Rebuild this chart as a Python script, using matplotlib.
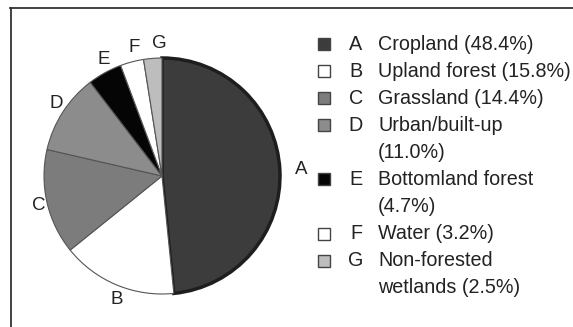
import matplotlib
matplotlib.use("Agg")
import matplotlib.pyplot as plt
from matplotlib.lines import Line2D
from matplotlib.patches import Rectangle

# Land cover shares (percent)
letters = ["A", "B", "C", "D", "E", "F", "G"]
names = ["Cropland", "Upland forest", "Grassland", "Urban/built-up\n",
         "Bottomland forest\n", "Water", "Non-forested\nwetlands"]
shares = [48.4, 15.8, 14.4, 11.0, 4.7, 3.2, 2.5]
colors = ["#3c3c3c", "#ffffff", "#7c7c7c", "#8c8c8c", "#050505", "#ffffff", "#bdbdbd"]

plt.rcParams["font.family"] = ["Liberation Sans", "DejaVu Sans"]

W, H = 573, 327
fs = 14.2
fig = plt.figure(figsize=(W / 100, H / 100), dpi=100)
ax = fig.add_axes([0, 0, 1, 1])
ax.set_xlim(0, W)
ax.set_ylim(H, 0)
ax.axis("off")

# pie drawn in its own axes so the angles stay normal
pax = fig.add_axes([0, 0, 1, 1])
wedges, texts = pax.pie(shares, labels=letters, colors=colors, startangle=90,
                        counterclock=False, center=(162, H - 176), radius=118,
                        labeldistance=1.13, frame=True,
                        wedgeprops=dict(edgecolor="#555555", linewidth=0.8),
                        textprops=dict(fontsize=13.5, color="#222222"))
pax.set_xlim(0, W)
pax.set_ylim(0, H)
pax.axis("off")
wedges[0].set_edgecolor("#1e1e1e")
wedges[0].set_linewidth(2.5)

# frame: top and left rules only
ax.add_line(Line2D([10, W], [8, 8], color="#333333", lw=1.3))
ax.add_line(Line2D([11, 11], [8, H], color="#333333", lw=1.3))

# legend
y = 44
step = 27.1
for letter, name, pct, col in zip(letters, names, shares, colors):
    sep = "" if name.endswith("\n") else " "
    lines = (name + sep + f"({pct:.1f}%)").split("\n")
    ax.add_patch(Rectangle((318, y - 6), 12, 12, facecolor=col,
                           edgecolor="#444444", lw=1.0))
    ax.text(356, y, letter, fontsize=fs, va="center", ha="center", color="#222222")
    for line in lines:
        ax.text(378, y, line, fontsize=fs, va="center", ha="left", color="#222222")
        y += step

fig.savefig("out.png", dpi=100)
